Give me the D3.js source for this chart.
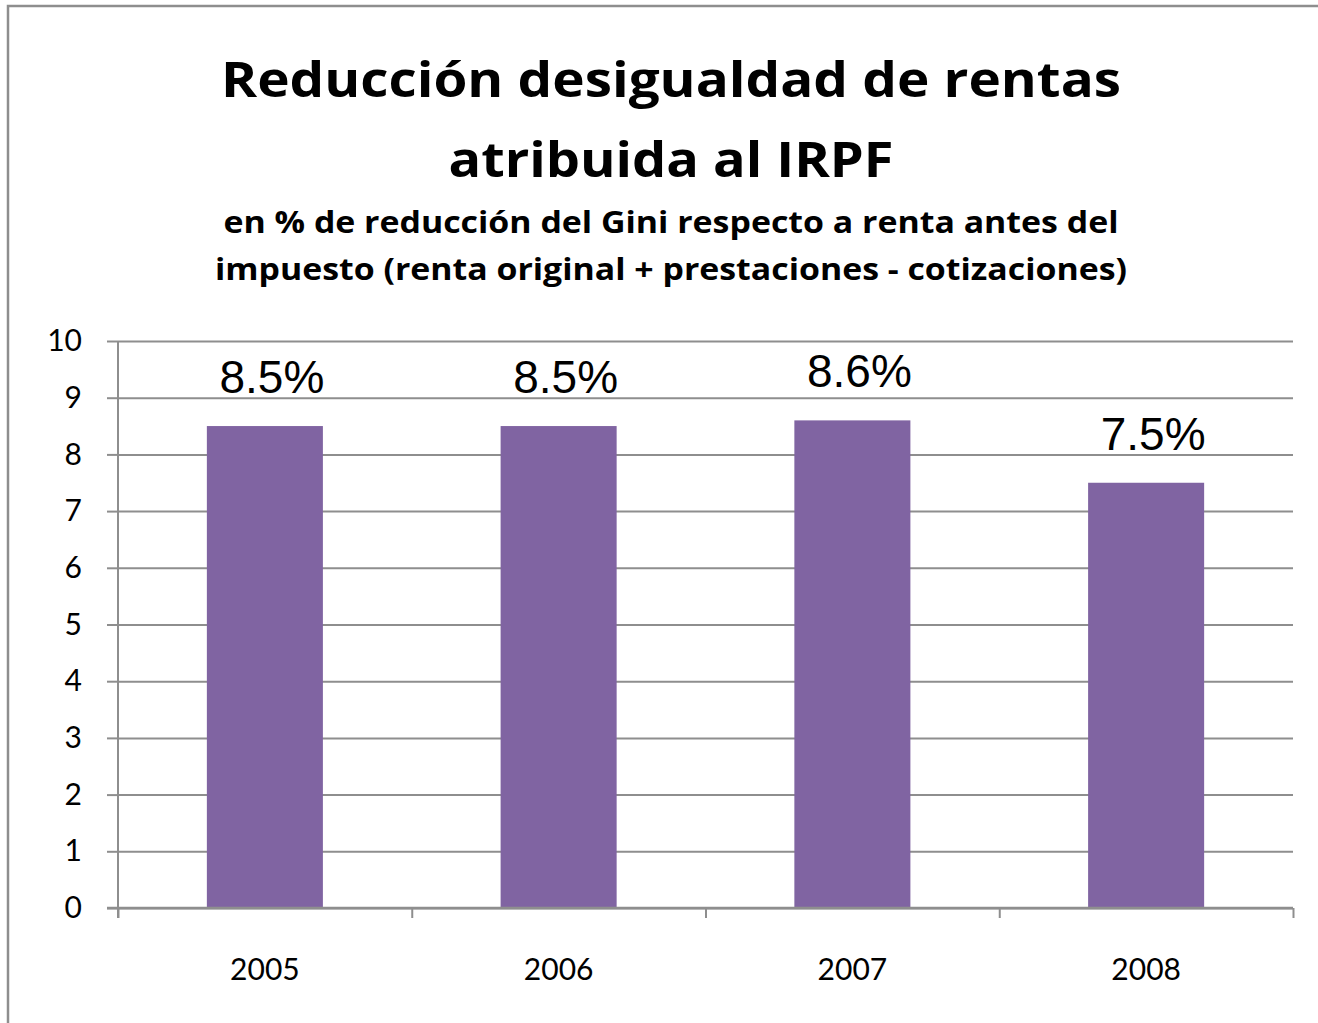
<!DOCTYPE html>
<html>
<head>
<meta charset="utf-8">
<script src="https://cdn.jsdelivr.net/npm/d3@7"></script>
<style>
  body { margin: 0; background: #fff; }
  svg { display: block; }
</style>
</head>
<body>
<svg id="chart"></svg>
<script>
const years = ['2005', '2006', '2007', '2008'];
const values = [8.5, 8.5, 8.6, 7.5];
const valueLabels = ['8.5%', '8.5%', '8.6%', '7.5%'];
const yTicks = [0, 1, 2, 3, 4, 5, 6, 7, 8, 9, 10];
const titleLines = ['Reducción desigualdad de rentas', 'atribuida al IRPF'];
const subtitleLines = ['en % de reducción del Gini respecto a renta antes del',
    'impuesto (renta original + prestaciones - cotizaciones)'];

const props = {
    width: 1318, height: 1023,
    plot: { left: 118, right: 1293, top: 341, bottom: 908 },
    colors: { bar: '#8064A2', grid: '#8e8e8e', text: '#000' }
};

let svg, xScale, yScale, xEdge;

function initGraph() {
    svg = d3.select('#chart')
        .attr('width', props.width)
        .attr('height', props.height);

    // outer chart frame (right/bottom edges fall outside the picture)
    svg.append('rect')
        .attr('x', 8).attr('y', 6)
        .attr('width', 1330).attr('height', 1040)
        .attr('fill', 'none')
        .attr('stroke', props.colors.grid)
        .attr('stroke-width', 2.5);
}

function initScales() {
    xScale = d3.scaleBand()
        .domain(years)
        .range([props.plot.left, props.plot.right])
        .padding(0);
    xEdge = d3.scaleLinear()
        .domain([0, years.length])
        .range([props.plot.left, props.plot.right]);
    yScale = d3.scaleLinear()
        .domain([0, 10])
        .range([props.plot.bottom, props.plot.top]);
}

function appendTitles() {
    const cx = 671;
    const title = svg.append('g')
        .attr('font-family', '"Open Sans", Lato, sans-serif')
        .attr('font-weight', 'bold')
        .attr('fill', props.colors.text)
        .attr('text-anchor', 'middle');

    const tw = [900, 445];
    const ty = [97, 177];
    titleLines.forEach(function(t, i) {
        title.append('text')
            .attr('x', cx).attr('y', ty[i])
            .attr('font-size', 49)
            .attr('textLength', tw[i])
            .attr('lengthAdjust', 'spacingAndGlyphs')
            .text(t);
    });

    const sw = [895, 912];
    const sy = [233, 280];
    subtitleLines.forEach(function(t, i) {
        title.append('text')
            .attr('x', cx).attr('y', sy[i])
            .attr('font-size', 31)
            .attr('textLength', sw[i])
            .attr('lengthAdjust', 'spacingAndGlyphs')
            .text(t);
    });
}

function appendGrid() {
    const grid = svg.append('g')
        .attr('transform', 'translate(' + props.plot.left + ',0)')
        .call(d3.axisLeft(yScale)
            .tickValues(yTicks)
            .tickSizeInner(-(props.plot.right - props.plot.left))
            .tickSizeOuter(0)
            .tickFormat(''));
    grid.select('.domain').remove();
    grid.selectAll('line')
        .attr('stroke', props.colors.grid)
        .attr('stroke-width', 2);
}

function appendBars() {
    const bw = xScale.bandwidth() * 0.395;
    svg.append('g').selectAll('rect')
        .data(values)
        .join('rect')
        .attr('x', function(d, i) { return xScale(years[i]) + (xScale.bandwidth() - bw) / 2; })
        .attr('y', function(d) { return yScale(d); })
        .attr('width', bw)
        .attr('height', function(d) { return yScale(0) - yScale(d); })
        .attr('fill', props.colors.bar);

    svg.append('g').selectAll('text')
        .data(values)
        .join('text')
        .attr('x', function(d, i) { return xScale(years[i]) + xScale.bandwidth() / 2 + 7; })
        .attr('y', function(d) { return yScale(d) - 33; })
        .attr('text-anchor', 'middle')
        .attr('font-family', '"Liberation Sans", Arial, sans-serif')
        .attr('font-size', 46)
        .attr('fill', props.colors.text)
        .text(function(d, i) { return valueLabels[i]; });
}

function appendAxes() {
    const yAxis = svg.append('g')
        .attr('transform', 'translate(' + props.plot.left + ',0)')
        .call(d3.axisLeft(yScale)
            .tickValues(yTicks)
            .tickSizeInner(11)
            .tickSizeOuter(0)
            .tickPadding(25));
    yAxis.select('.domain').remove();

    const xTicks = svg.append('g')
        .attr('transform', 'translate(0,' + props.plot.bottom + ')')
        .call(d3.axisBottom(xEdge)
            .ticks(years.length)
            .tickSizeInner(10)
            .tickSizeOuter(0)
            .tickFormat(''));
    xTicks.select('.domain').remove();

    const xAxis = svg.append('g')
        .attr('transform', 'translate(0,' + props.plot.bottom + ')')
        .call(d3.axisBottom(xScale)
            .tickSize(0)
            .tickPadding(51));
    xAxis.select('.domain').remove();

    // axis lines
    svg.append('line')
        .attr('x1', props.plot.left).attr('x2', props.plot.left)
        .attr('y1', yScale(10)).attr('y2', props.plot.bottom + 10)
        .attr('stroke', props.colors.grid).attr('stroke-width', 2);
    svg.append('line')
        .attr('x1', props.plot.left - 11).attr('x2', props.plot.right)
        .attr('y1', yScale(0)).attr('y2', yScale(0))
        .attr('stroke', props.colors.grid).attr('stroke-width', 2.5);

    svg.selectAll('.tick line')
        .attr('stroke', props.colors.grid)
        .attr('stroke-width', 2);
    svg.selectAll('.tick text')
        .attr('font-family', 'Lato, "Open Sans", sans-serif')
        .attr('font-size', 30)
        .attr('fill', props.colors.text);
}

initGraph();
initScales();
appendTitles();
appendGrid();
appendBars();
appendAxes();
</script>
</body>
</html>
